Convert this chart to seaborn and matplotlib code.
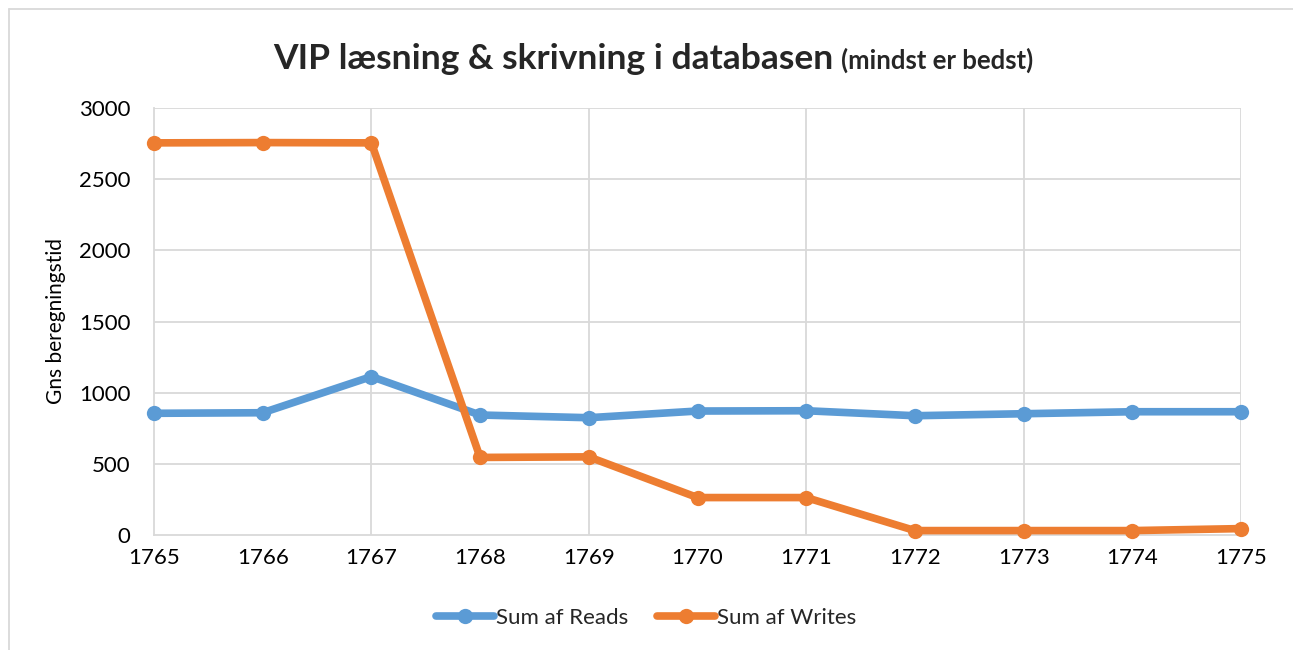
import matplotlib
matplotlib.use("Agg")
import matplotlib.pyplot as plt
import seaborn as sns
import pandas as pd
from matplotlib.lines import Line2D

years = [1765, 1766, 1767, 1768, 1769, 1770, 1771, 1772, 1773, 1774, 1775]
reads = [855, 859, 1113, 843, 824, 871, 873, 838, 852, 866, 866]
writes = [2755, 2757, 2755, 545, 549, 263, 263, 31, 31, 31, 45]
series_names = ["Sum af Reads", "Sum af Writes"]
colors = ["#5B9BD5", "#ED7D31"]
title_main = "VIP læsning & skrivning i databasen"
title_sub = "(mindst er bedst)"
y_label = "Gns beregningstid"

df = pd.DataFrame({
    "year": years * 2,
    "value": reads + writes,
    "series": [series_names[0]] * len(years) + [series_names[1]] * len(years),
})

sns.set_theme(style="white")
plt.rcParams["font.family"] = ["Lato", "DejaVu Sans"]

W, H = 1293, 650
fig = plt.figure(figsize=(W / 100, H / 100), dpi=100)
left, right, top, bottom = 154, 1241, 108, 535
ax = fig.add_axes([left / W, 1 - bottom / H, (right - left) / W, (bottom - top) / H])

sns.lineplot(data=df, x="year", y="value", hue="series", palette=colors,
             marker="o", markersize=11, markeredgewidth=0, linewidth=5.5,
             ax=ax, legend=False, clip_on=False, zorder=3)

ax.set_xlim(1765, 1775)
ax.set_ylim(0, 3000)
ax.set_xticks(years)
ax.set_xticklabels([str(y) for y in years])
ax.set_yticks(range(0, 3001, 500))
ax.tick_params(axis="both", length=0, labelsize=16, colors="black")
ax.tick_params(axis="x", pad=9)
ax.tick_params(axis="y", pad=17)

for yv in range(500, 3001, 500):
    ax.axhline(yv, color="#D9D9D9", lw=1.3, zorder=0)
for xv in years[2::2]:
    ax.axvline(xv, color="#D9D9D9", lw=1.3, zorder=0)
for s in ["top", "right"]:
    ax.spines[s].set_visible(False)
ax.spines["left"].set_color("#D9D9D9")
ax.spines["left"].set_linewidth(1.3)
ax.spines["bottom"].set_color("#D9D9D9")
ax.spines["bottom"].set_linewidth(1.3)

ax.set_xlabel("")
ax.set_ylabel(y_label, fontsize=15, color="black", labelpad=9)

# Titles
t1 = fig.text(0, 1 - 69 / H, title_main, fontsize=25.5, fontweight="bold", ha="left", va="baseline")
t2 = fig.text(0, 1 - 69 / H, title_sub, fontsize=18.5, fontweight="bold", ha="left", va="baseline")
fig.canvas.draw()
r = fig.canvas.get_renderer()
w1 = t1.get_window_extent(r).width
w2 = t2.get_window_extent(r).width
gap = 8
total = w1 + gap + w2
x0 = (265 + 1042) / 2 - total / 2
t1.set_x(x0 / W)
t2.set_x((x0 + w1 + gap) / W)

# Legend
handles = [Line2D([0], [0], color=c, lw=5.5, marker="o", markersize=11, markeredgewidth=0)
           for c in colors]
fig.legend(handles, series_names, loc="center", bbox_to_anchor=(0.5, 1 - 618 / H),
           ncol=2, frameon=False, fontsize=16, handlelength=2.6, handletextpad=0.1,
           columnspacing=1.3)

# Outer frame
fig.add_artist(Line2D([9 / W, 9 / W], [0, 1 - 9 / H], color="#D9D9D9", lw=1.3))
fig.add_artist(Line2D([9 / W, 1], [1 - 9 / H, 1 - 9 / H], color="#D9D9D9", lw=1.3))

fig.savefig("out.png", dpi=100)
